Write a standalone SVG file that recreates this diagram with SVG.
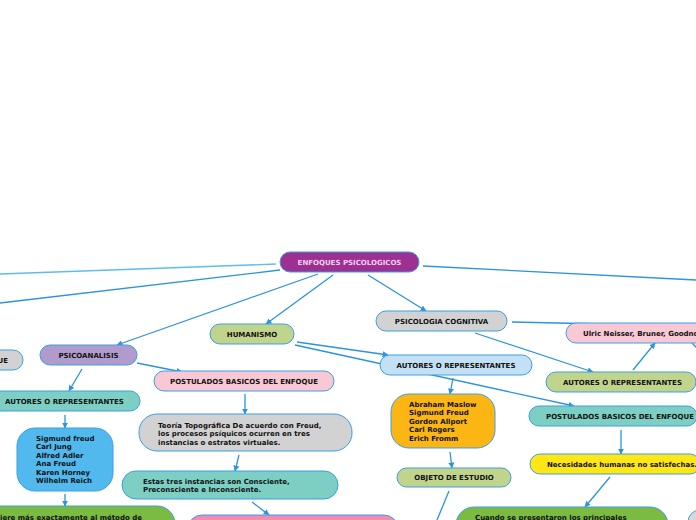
<svg xmlns="http://www.w3.org/2000/svg" width="696" height="520" viewBox="0 0 696 520">
<defs>
<marker id="ah" viewBox="0 0 10 10" refX="9" refY="5" markerWidth="6" markerHeight="6" markerUnits="userSpaceOnUse" orient="auto">
<path d="M0,0 L10,5 L0,10 z" fill="#2a94dc"/>
</marker>
<style>
.n{stroke:#3a9fe5;stroke-width:1}
.t{font-family:"DejaVu Sans",Verdana,sans-serif;font-weight:bold;font-size:7px;fill:#111}
.c{text-anchor:middle}
.l{fill:none;stroke:#2a94dc;stroke-width:1.3}
.ll{fill:none;stroke:#5dbdee;stroke-width:1.3}
</style>
</defs>
<rect width="696" height="520" fill="#fff"/>
<g id="connectors">
<line class="ll" x1="276" y1="264" x2="0" y2="274"/>
<line class="l" x1="280" y1="270" x2="0" y2="303"/>
<line class="l" x1="318" y1="274" x2="117" y2="345" marker-end="url(#ah)"/>
<line class="l" x1="333" y1="275" x2="266" y2="324" marker-end="url(#ah)"/>
<line class="l" x1="368" y1="275" x2="426" y2="311" marker-end="url(#ah)"/>
<line class="l" x1="423" y1="266" x2="696" y2="280"/>
<line class="l" x1="512" y1="322" x2="696" y2="326"/>
<line class="l" x1="475" y1="333" x2="593" y2="372" marker-end="url(#ah)"/>
<line class="l" x1="633" y1="370" x2="655" y2="343" marker-end="url(#ah)"/>
<line class="l" x1="692" y1="343" x2="697" y2="348"/>
<line class="l" x1="297" y1="342" x2="388" y2="355" marker-end="url(#ah)"/>
<line class="l" x1="295" y1="345" x2="574" y2="406" marker-end="url(#ah)"/>
<line class="l" x1="453" y1="378" x2="450" y2="394" marker-end="url(#ah)"/>
<line class="l" x1="450" y1="452" x2="452" y2="468" marker-end="url(#ah)"/>
<line class="l" x1="449" y1="491" x2="437" y2="520"/>
<line class="l" x1="621" y1="430" x2="621" y2="454" marker-end="url(#ah)"/>
<line class="l" x1="610" y1="477" x2="585" y2="507" marker-end="url(#ah)"/>
<line class="l" x1="82" y1="369" x2="69" y2="391" marker-end="url(#ah)"/>
<line class="l" x1="137" y1="363" x2="182" y2="372" marker-end="url(#ah)"/>
<line class="l" x1="65" y1="415" x2="65" y2="428" marker-end="url(#ah)"/>
<line class="l" x1="65" y1="494" x2="65" y2="506" marker-end="url(#ah)"/>
<line class="l" x1="245" y1="394" x2="245" y2="414" marker-end="url(#ah)"/>
<line class="l" x1="239" y1="455" x2="235" y2="471" marker-end="url(#ah)"/>
<line class="l" x1="252" y1="502" x2="269" y2="515" marker-end="url(#ah)"/>
</g>
<g id="n-enfoques"><rect class="n" x="280" y="252" width="139" height="20" rx="10" fill="#9c3191"/><text class="t c" x="349.5" y="264.5" style="fill:#f6cdef">ENFOQUES PSICOLOGICOS</text></g>
<g id="n-psicoanalisis"><rect class="n" x="40" y="345" width="97" height="20" rx="10" fill="#b19bcc"/><text class="t c" x="88.5" y="357.5">PSICOANALISIS</text></g>
<g id="n-left-postulados"><rect class="n" x="-150" y="350" width="173" height="20" rx="10" fill="#d2d2d2"/><text class="t" x="8" y="362.5" text-anchor="end">POSTULADOS BASICOS DEL ENFOQUE</text></g>
<g id="n-humanismo"><rect class="n" x="210" y="324" width="84" height="20" rx="10" fill="#c1d48b"/><text class="t c" x="252" y="336.5">HUMANISMO</text></g>
<g id="n-cognitiva"><rect class="n" x="376" y="311" width="131" height="20" rx="10" fill="#d2d2d2"/><text class="t c" x="441.5" y="323.5">PSICOLOGIA COGNITIVA</text></g>
<g id="n-autores-hum"><rect class="n" x="380" y="355" width="152" height="20" rx="10" fill="#c3e0f4"/><text class="t c" x="456" y="367.5">AUTORES O REPRESENTANTES</text></g>
<g id="n-ulric"><rect class="n" x="566" y="323" width="160" height="20" rx="10" fill="#f9c8d5"/><text class="t" x="583" y="335.5">Ulric Neisser, Bruner, Goodnow</text></g>
<g id="n-autores-cog"><rect class="n" x="546" y="372" width="150" height="20" rx="10" fill="#c1d48b"/><text class="t c" x="622.5" y="384.5">AUTORES O REPRESENTANTES</text></g>
<g id="n-postulados-psico"><rect class="n" x="154" y="371" width="180" height="20" rx="10" fill="#f9c8d5"/><text class="t c" x="244" y="383.5">POSTULADOS BASICOS DEL ENFOQUE</text></g>
<g id="n-autores-psico"><rect class="n" x="-10" y="391" width="150" height="20" rx="10" fill="#7ecfc3"/><text class="t" x="5" y="403.5">AUTORES O REPRESENTANTES</text></g>
<g id="n-sigmund"><rect class="n" x="17" y="428" width="96" height="63" rx="18" fill="#51b9ed"/><text class="t"><tspan x="36" y="440.5">Sigmund freud</tspan><tspan x="36" y="449">Carl Jung</tspan><tspan x="36" y="457.5">Alfred Adler</tspan><tspan x="36" y="466">Ana Freud</tspan><tspan x="36" y="474.5">Karen Horney</tspan><tspan x="36" y="483">Wilhelm Reich</tspan></text></g>
<g id="n-teoria"><rect class="n" x="139" y="414" width="213" height="37" rx="18" fill="#d2d2d2"/><text class="t"><tspan x="158" y="427.5">Teoría Topográfica De acuerdo con Freud,</tspan><tspan x="158" y="436">los procesos psíquicos ocurren en tres</tspan><tspan x="158" y="444.5">instancias o estratos virtuales.</tspan></text></g>
<g id="n-estas"><rect class="n" x="122" y="471" width="216" height="28" rx="14" fill="#7ecfc3"/><text class="t"><tspan x="143" y="483.5">Estas tres instancias son Consciente,</tspan><tspan x="143" y="492">Preconsciente e Inconsciente.</tspan></text></g>
<g id="n-pink-bottom"><rect class="n" x="188" y="515" width="210" height="30" rx="14" fill="#f28db2"/></g>
<g id="n-green-left"><rect class="n" x="-70" y="506" width="245" height="40" rx="18" fill="#7cbb42"/><text class="t" x="0" y="519.5">iere más exactamente al método de</text></g>
<g id="n-abraham"><rect class="n" x="391" y="394" width="104" height="54" rx="18" fill="#fcb614"/><text class="t"><tspan x="409" y="406.5">Abraham Maslow</tspan><tspan x="409" y="415">Sigmund Freud</tspan><tspan x="409" y="423.5">Gordon Allport</tspan><tspan x="409" y="432">Carl Rogers</tspan><tspan x="409" y="440.5">Erich Fromm</tspan></text></g>
<g id="n-objeto"><rect class="n" x="397" y="468" width="114" height="19" rx="9.5" fill="#c1d48b"/><text class="t c" x="454" y="480">OBJETO DE ESTUDIO</text></g>
<g id="n-postulados-hum"><rect class="n" x="529" y="406" width="168" height="20" rx="10" fill="#7ecfc3"/><text class="t" x="546" y="418.5">POSTULADOS BASICOS DEL ENFOQUE</text></g>
<g id="n-necesidades"><rect class="n" x="530" y="454" width="170" height="20" rx="10" fill="#ffe615"/><text class="t" x="547" y="466.5">Necesidades humanas no satisfechas.</text></g>
<g id="n-green-right"><rect class="n" x="456" y="507" width="212" height="40" rx="18" fill="#7cbb42"/><text class="t" x="475" y="520">Cuando se presentaron los principales</text></g>
<g id="n-gray-right"><rect class="n" x="688" y="510" width="40" height="30" rx="12" fill="#d8d8d8"/></g>
</svg>
